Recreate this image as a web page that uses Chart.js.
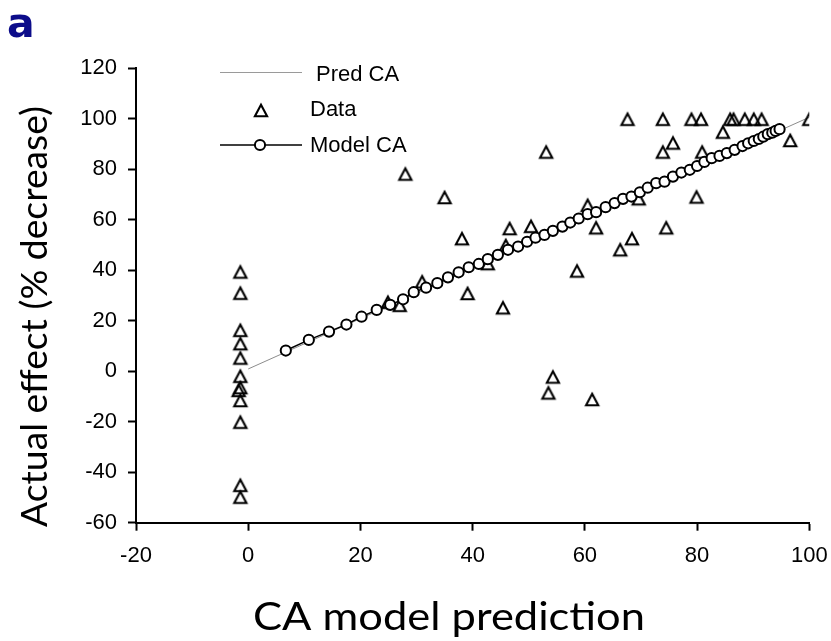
<!DOCTYPE html>
<html>
<head>
<meta charset="utf-8">
<script src="https://cdn.jsdelivr.net/npm/chart.js@4.4.1/dist/chart.umd.min.js"></script>
<style>
  html, body { margin: 0; padding: 0; background: #fff; }
  #wrap { position: relative; width: 831px; height: 641px; }
  canvas { display: block; }
</style>
</head>
<body>
<div id="wrap"><canvas id="chart" width="831" height="641"></canvas></div>
<script>
// Axis ranges
const xRange = [-20, 100];
const yRange = [-60, 120];
const tickStep = 20;

// Observed effects (triangles)
const dataX = [
  -1.4, -1.4, -1.4, -1.4, -1.4, -1.4, -1.4, -1.7, -1.4, -1.4, -1.4, -1.4,
  24.9, 27.0, 28.0, 31.0, 35.0, 38.1, 39.1, 42.7, 45.4, 45.9, 46.6, 50.4,
  53.1, 53.5, 54.3, 58.6, 60.5, 61.3, 62.0, 66.3, 67.6, 68.4, 69.6, 73.9,
  73.9, 74.5, 75.7, 79.0, 79.9, 80.7, 80.9, 84.6, 85.9, 86.5, 88.5, 90.1,
  91.5, 96.6, 100.0
];
const dataY = [
  39.5, 31.1, 16.4, 11.1, 5.4, -1.8, -6.3, -7.4, -11.4, -20.0, -45.0, -49.7,
  27.5, 26.3, 78.3, 35.6, 69.0, 52.7, 31.0, 42.8, 25.3, 50.0, 56.7, 57.6,
  87.0, -8.4, -2.1, 39.9, 65.9, -11.0, 57.0, 48.3, 100.0, 52.7, 68.5, 87.0,
  100.0, 57.0, 90.6, 100.0, 69.2, 100.0, 87.0, 94.9, 100.0, 100.0, 100.0, 100.0,
  100.0, 91.6, 100.0
];

// Model CA curve (circles joined by a line)
const modelX = [
  6.7, 10.8, 14.4, 17.5, 20.2, 22.9, 25.3, 27.6, 29.5, 31.7,
  33.7, 35.6, 37.5, 39.3, 41.1, 42.7, 44.5, 46.3, 48.1, 49.7,
  51.2, 52.8, 54.3, 56.0, 57.4, 58.9, 60.5, 62.0, 63.7, 65.3,
  66.8, 68.3, 69.8, 71.2, 72.7, 74.2, 75.7, 77.2, 78.7, 80.0,
  81.3, 82.6, 84.0, 85.3, 86.7, 88.1, 89.1, 90.1, 91.0, 91.8,
  92.6, 93.4, 94.0, 94.7
];
const modelY = [
  8.2, 12.4, 15.7, 18.5, 21.6, 24.3, 26.3, 28.5, 31.3, 33.1,
  34.9, 37.2, 39.2, 41.2, 42.5, 44.4, 46.1, 48.1, 49.4, 51.3,
  52.9, 54.0, 55.6, 57.3, 58.9, 60.5, 62.2, 63.0, 65.0, 66.6,
  68.3, 69.2, 70.9, 72.7, 74.5, 75.1, 77.1, 78.7, 79.8, 81.3,
  82.9, 84.4, 85.3, 86.4, 87.7, 89.2, 90.3, 91.2, 92.0, 92.9,
  93.9, 94.5, 95.2, 95.9
];

// Pred CA reference line
const predX = [0, 100];
const predY = [0.9, 100.6];

const seriesNames = ['Pred CA', 'Data', 'Model CA'];
const axisTitles = { x: 'CA model prediction', y: 'Actual effect (% decrease)' };
const panelLabel = 'a';

const pairs = (xs, ys) => xs.map((x, i) => ({ x: x, y: ys[i] }));

// Hollow triangle marker
function makeTriangle() {
  const c = document.createElement('canvas');
  c.width = 20; c.height = 20;
  const g = c.getContext('2d');
  g.strokeStyle = '#000';
  g.lineWidth = 2.1;
  g.lineJoin = 'miter';
  g.beginPath();
  g.moveTo(10, 4.7);
  g.lineTo(16.1, 16.3);
  g.lineTo(3.9, 16.3);
  g.closePath();
  g.stroke();
  return c;
}
const triangle = makeTriangle();

const tickFont = { family: '"Liberation Sans", Arial, sans-serif', size: 22 };
const titleFamily = 'Lato, "Open Sans", sans-serif';

// Draw text centred on (cx, y) and scaled to a given width
function fitText(ctx, text, cx, y, width) {
  const w = ctx.measureText(text).width;
  ctx.save();
  ctx.translate(cx, y);
  ctx.scale(width / w, 1);
  ctx.textAlign = 'center';
  ctx.fillText(text, 0, 0);
  ctx.restore();
}

const decorations = {
  id: 'decorations',
  afterDraw(chart) {
    const ctx = chart.ctx;
    ctx.save();

    // panel letter
    ctx.fillStyle = '#0c0c8a';
    ctx.font = 'bold 41px "DejaVu Sans", sans-serif';
    ctx.textAlign = 'left';
    ctx.textBaseline = 'alphabetic';
    ctx.fillText(panelLabel, 7, 37);

    // axis titles
    ctx.fillStyle = '#000';
    ctx.font = '39px ' + titleFamily;
    fitText(ctx, axisTitles.x, 449, 630, 392);
    ctx.save();
    ctx.translate(47, 316.5);
    ctx.rotate(-Math.PI / 2);
    ctx.font = '37px ' + titleFamily;
    fitText(ctx, axisTitles.y, 0, 0, 421);
    ctx.restore();

    // legend
    ctx.font = '22px "Liberation Sans", Arial, sans-serif';
    ctx.textAlign = 'left';
    ctx.textBaseline = 'middle';

    ctx.strokeStyle = '#9a9a9a';
    ctx.lineWidth = 1;
    ctx.beginPath();
    ctx.moveTo(220, 72.5);
    ctx.lineTo(302, 72.5);
    ctx.stroke();
    ctx.fillText(seriesNames[0], 316, 75);

    ctx.drawImage(triangle, 261 - 10, 110 - 10);
    ctx.fillText(seriesNames[1], 310, 109.5);

    ctx.strokeStyle = '#000';
    ctx.lineWidth = 1.5;
    ctx.beginPath();
    ctx.moveTo(220, 145);
    ctx.lineTo(302, 145);
    ctx.stroke();
    ctx.beginPath();
    ctx.arc(260, 145, 5.1, 0, Math.PI * 2);
    ctx.fillStyle = '#fff';
    ctx.fill();
    ctx.lineWidth = 2;
    ctx.stroke();
    ctx.fillStyle = '#000';
    ctx.fillText(seriesNames[2], 310, 146);

    ctx.restore();
  }
};

function axisOptions(range, fitSize, horizontal) {
  return {
    type: 'linear',
    min: range[0],
    max: range[1],
    ticks: {
      stepSize: tickStep,
      font: tickFont,
      color: '#000',
      padding: horizontal ? 12 : 11
    },
    grid: {
      display: true,
      drawOnChartArea: false,
      drawTicks: true,
      tickLength: 8,
      tickWidth: 2,
      tickColor: '#000'
    },
    border: { display: true, color: '#000', width: 2 },
    afterFit(scale) {
      if (horizontal) scale.height = fitSize; else scale.width = fitSize;
      scale.paddingLeft = 0;
      scale.paddingRight = 0;
      scale.paddingTop = 0;
      scale.paddingBottom = 0;
    }
  };
}

function draw() {
  new Chart(document.getElementById('chart'), {
    type: 'scatter',
    data: {
      datasets: [
        {
          label: seriesNames[2],
          data: pairs(modelX, modelY),
          showLine: true,
          borderColor: '#000',
          borderWidth: 1.5,
          pointStyle: 'circle',
          pointRadius: 5.1,
          pointBorderWidth: 2,
          pointBorderColor: '#000',
          pointBackgroundColor: '#fff'
        },
        {
          label: seriesNames[1],
          data: pairs(dataX, dataY),
          showLine: false,
          pointStyle: triangle,
          pointRadius: 7
        },
        {
          label: seriesNames[0],
          data: pairs(predX, predY),
          showLine: true,
          borderColor: '#8c8c8c',
          borderWidth: 1,
          pointRadius: 0
        }
      ]
    },
    options: {
      responsive: false,
      devicePixelRatio: 1,
      animation: false,
      events: [],
      layout: { padding: { top: 68.3, right: 21.7, left: 0, bottom: 0 } },
      plugins: {
        legend: { display: false },
        tooltip: { enabled: false }
      },
      scales: {
        x: axisOptions(xRange, 118.3, true),
        y: axisOptions(yRange, 136, false)
      }
    },
    plugins: [decorations]
  });
}

if (document.fonts && document.fonts.ready) {
  document.fonts.ready.then(draw);
} else {
  draw();
}
</script>
</body>
</html>
